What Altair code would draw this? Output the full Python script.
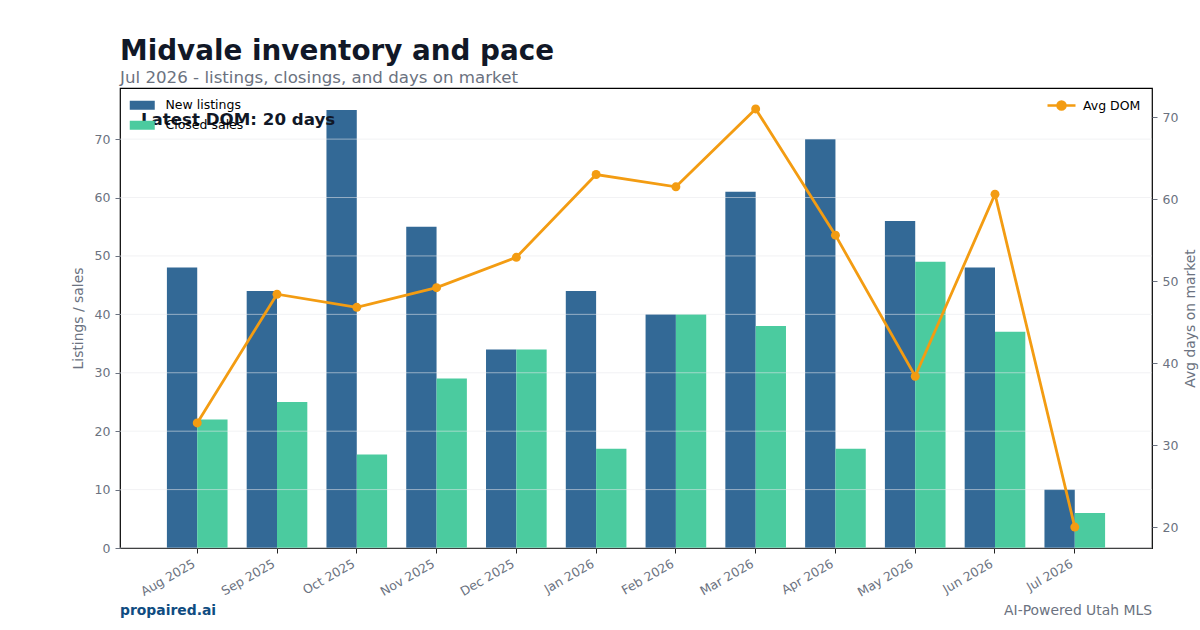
import altair as alt
import pandas as pd

# ---- data ----
months = ["Aug 2025", "Sep 2025", "Oct 2025", "Nov 2025", "Dec 2025", "Jan 2026",
          "Feb 2026", "Mar 2026", "Apr 2026", "May 2026", "Jun 2026", "Jul 2026"]
new_listings = [48, 44, 75, 55, 34, 44, 40, 61, 70, 56, 48, 10]
closed_sales = [22, 25, 16, 29, 34, 17, 40, 38, 17, 49, 37, 6]
avg_dom = [32.7, 48.4, 46.8, 49.2, 52.9, 63.0, 61.5, 71.0, 55.6, 38.4, 60.6, 20.0]
series_names = ["New listings", "Closed sales"]
line_name = ["Avg DOM"]
left_ticks = [0, 10, 20, 30, 40, 50, 60, 70]
right_ticks = [20, 30, 40, 50, 60, 70]

# ---- style ----
FONT = "DejaVu Sans"
GRAY = "#6b7280"
DARK = "#111827"
BLUE = "#336996"
GREEN = "#4BCB9F"
ORANGE = "#F39C12"
W, H = 1032, 460

bars_df = pd.DataFrame({
    "month": months * 2,
    "series": [series_names[0]] * len(months) + [series_names[1]] * len(months),
    "value": new_listings + closed_sales,
})
dom_df = pd.DataFrame({"month": months, "dom": avg_dom, "series": line_name * len(months)})
grid_df = pd.DataFrame({"value": left_ticks})

ymax = max(new_listings + closed_sales) * 1.05
dlo, dhi = min(avg_dom), max(avg_dom)
dpad = (dhi - dlo) * 0.05
left_scale = alt.Scale(domain=[0, ymax], nice=False, zero=True)
right_scale = alt.Scale(domain=[dlo - dpad, dhi + dpad], nice=False, zero=False)

left_axis = alt.Axis(values=left_ticks, title="Listings / sales", grid=False, domain=False,
                     tickSize=5, tickColor=GRAY, labelColor=GRAY, labelFontSize=12.5,
                     labelFont=FONT, titleColor=GRAY, titleFontSize=13.9, titleFont=FONT,
                     titleFontWeight="normal", titlePadding=9, labelPadding=5)
right_axis = alt.Axis(values=right_ticks, title="Avg days on market", orient="right",
                      grid=False, domain=False, tickSize=5, tickColor=GRAY,
                      labelColor=GRAY, labelFontSize=12.5, labelFont=FONT,
                      titleColor=GRAY, titleFontSize=13.9, titleFont=FONT,
                      titleFontWeight="normal", titleAngle=270, titleBaseline="top",
                      titlePadding=6, labelPadding=5)

x_enc = alt.X(
    "month:N", sort=months,
    scale=alt.Scale(domain=months, paddingInner=0.24, paddingOuter=0.588),
    axis=alt.Axis(title=None, labelAngle=-30, labelAlign="right", labelBaseline="top",
                  labelOffset=-6, labelPadding=4, tickSize=5, tickColor="#222222",
                  labelColor=GRAY, labelFontSize=12.5, labelFont=FONT,
                  domain=False, grid=False),
)

bars = alt.Chart(bars_df).mark_bar().encode(
    x=x_enc,
    xOffset=alt.XOffset("series:N", sort=series_names,
                        scale=alt.Scale(domain=series_names, paddingInner=0, paddingOuter=0)),
    y=alt.Y("value:Q", scale=left_scale, axis=left_axis),
    color=alt.Color("series:N", sort=series_names,
                    scale=alt.Scale(domain=series_names, range=[BLUE, GREEN]),
                    legend=alt.Legend(title=None, orient="none", legendX=16, legendY=11,
                                      symbolType="M-2.5,-0.9H2.5V0.9H-2.5Z", symbolSize=100,
                                      symbolStrokeWidth=0, labelFontSize=12.5, labelFont=FONT,
                                      labelColor="black", labelOffset=17, rowPadding=7,
                                      padding=0)),
)

grid = alt.Chart(grid_df).mark_rule(color="#e5e7eb", opacity=0.7, strokeWidth=0.8).encode(
    y=alt.Y("value:Q", scale=left_scale, axis=left_axis),
    x=alt.value(0), x2=alt.value(W),
)

latest = alt.Chart(pd.DataFrame({"t": [f"Latest DOM: {avg_dom[-1]:.0f} days"]})).mark_text(
    align="left", baseline="alphabetic", fontSize=16.67, fontWeight="bold", color=DARK, font=FONT
).encode(x=alt.value(21), y=alt.value(37), text="t:N")

foot_l = alt.Chart(pd.DataFrame({"t": ["propaired.ai"]})).mark_text(
    align="left", baseline="alphabetic", fontSize=13.9, fontWeight="bold", color="#0F4C81", font=FONT
).encode(x=alt.value(0), y=alt.value(H + 67), text="t:N")

foot_r = alt.Chart(pd.DataFrame({"t": ["AI-Powered Utah MLS"]})).mark_text(
    align="right", baseline="alphabetic", fontSize=13.9, color=GRAY, font=FONT
).encode(x=alt.value(W), y=alt.value(H + 67), text="t:N")

line = alt.Chart(dom_df).mark_line(strokeWidth=2.8).encode(
    x=alt.X("month:N", sort=months),
    y=alt.Y("dom:Q", scale=right_scale, axis=right_axis),
    stroke=alt.Stroke("series:N", scale=alt.Scale(domain=line_name, range=[ORANGE]),
                      legend=alt.Legend(title=None, orient="none", legendX=935, legendY=11,
                                        symbolType="M-2.8,0H2.8M0.8,0A0.8,0.8 0 1,1 -0.8,0A0.8,0.8 0 1,1 0.8,0Z",
                                        symbolSize=100, symbolStrokeWidth=2.5,
                                        symbolFillColor=ORANGE, symbolStrokeColor=ORANGE,
                                        labelFontSize=12.5, labelFont=FONT, labelColor="black",
                                        labelOffset=15, padding=0)),
)

points = alt.Chart(dom_df).mark_point(filled=True, size=80, opacity=1, color=ORANGE).encode(
    x=alt.X("month:N", sort=months),
    y=alt.Y("dom:Q", scale=right_scale, axis=right_axis),
)

left = alt.layer(bars, grid, latest, foot_l, foot_r)
right = alt.layer(line, points)

chart = alt.layer(left, right).resolve_scale(y="independent").properties(
    width=W, height=H,
    autosize=alt.AutoSizeParams(type="none"),
    padding={"left": 120, "top": 88, "right": 48, "bottom": 82},
    title=alt.TitleParams(
        text="Midvale inventory and pace",
        subtitle="Jul 2026 - listings, closings, and days on market",
        anchor="start", frame="group", font=FONT, fontSize=27.8, fontWeight="bold",
        color=DARK, subtitleFont=FONT, subtitleFontSize=16.67, subtitleColor=GRAY,
        offset=1, subtitlePadding=5,
    ),
).configure(background="white").configure_view(stroke="black", strokeWidth=1.2)

chart.save("out.html", embed_options={"renderer": "svg", "actions": False})
